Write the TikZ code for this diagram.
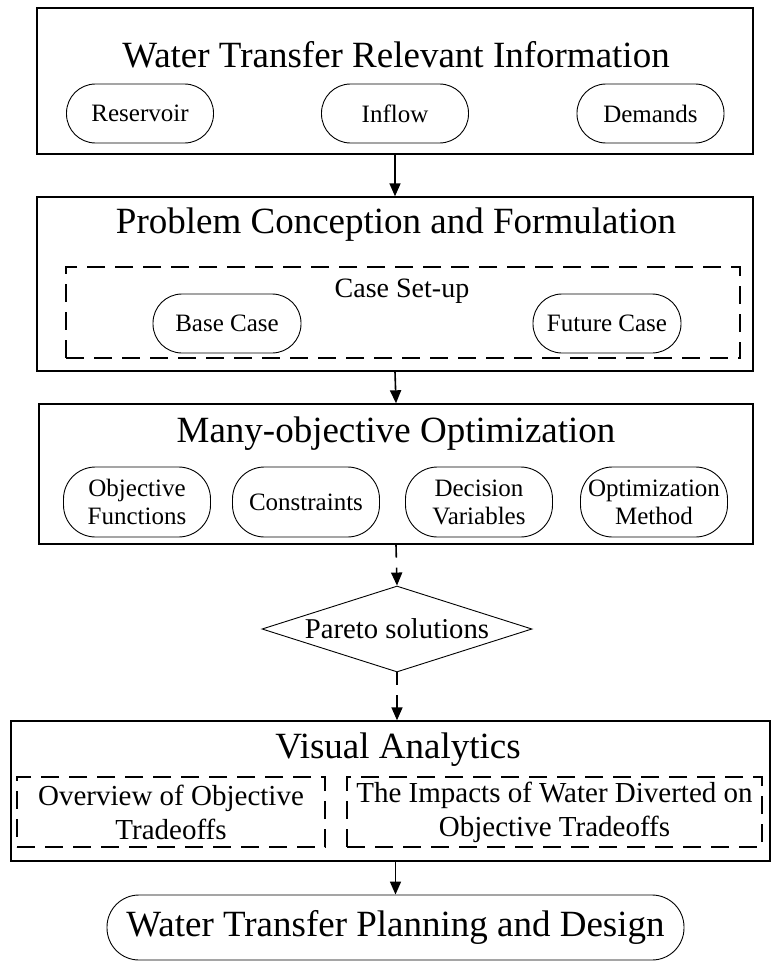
\documentclass[tikz,border=0pt]{standalone}
\usepackage{fontspec}
\setmainfont{Liberation Serif}
\usetikzlibrary{arrows.meta,shapes.geometric,positioning}

\begin{document}
\begin{tikzpicture}[x=1pt,y=-1pt,
    stage/.style={draw,line width=1.4pt,inner sep=0pt},
    pill/.style={draw,line width=0.9pt,rounded corners=29pt,minimum width=147pt,minimum height=59pt,inner sep=0pt,align=center,font=\fontsize{25}{28}\selectfont},
    dashbox/.style={draw,line width=1.1pt,dash pattern=on 18pt off 10pt,inner sep=0pt,align=center},
    headline/.style={anchor=base,font=\fontsize{37}{40}\selectfont},
    arr/.style={line width=1.6pt,-{Triangle[length=13pt,width=11pt]}},
    darr/.style={arr,dash pattern=on 13pt off 10pt}]
  \useasboundingbox (0,0) rectangle (771,963);
  % information
  \node[stage,minimum width=716pt,minimum height=146pt] (info) at (395,81) {};
  \node[headline] (infotitle) at (396,68) {Water Transfer Relevant Information};
  \node[pill] (reservoir) at (140,113.5) {Reservoir};
  \node[pill] (inflow) at (395,113.5) {Inflow};
  \node[pill] (demands) at (650.5,113.5) {Demands};
  % problem conception
  \node[stage,minimum width=716pt,minimum height=174pt] (concept) at (395,284) {};
  \node[headline] (concepttitle) at (396,233) {Problem Conception and Formulation};
  \node[dashbox,minimum width=674pt,minimum height=91pt] (casebox) at (403,312.5) {};
  \node[anchor=base,font=\fontsize{28}{30}\selectfont] (casetitle) at (402,297) {Case Set-up};
  \node[pill,minimum width=148pt] (basecase) at (227,323.5) {Base Case};
  \node[pill,minimum width=148pt] (futurecase) at (607,323.5) {Future Case};
  % optimization
  \node[stage,minimum width=714pt,minimum height=140pt] (optim) at (396,474) {};
  \node[headline] (optimtitle) at (396,442) {Many-objective Optimization};
  \foreach \name/\x/\txt in {objfun/137/{Objective\\Functions},constr/306/Constraints,decvar/479/{Decision\\Variables},method/654/{Optimization\\Method}}
    \node[pill,minimum height=70pt,rounded corners=32pt] (\name) at (\x,502) {\txt};
  % pareto
  \node[draw,diamond,line width=0.9pt,aspect=3,inner sep=0pt,minimum width=270pt,minimum height=86pt,font=\fontsize{28.7}{30}\selectfont] (pareto) at (397,629) {Pareto solutions};
  % visual analytics
  \node[stage,minimum width=759pt,minimum height=140pt] (visual) at (390.5,791) {};
  \node[headline] (visualtitle) at (398,758) {Visual Analytics};
  \node[dashbox,minimum width=308pt,minimum height=70pt,font=\fontsize{29}{34}\selectfont] (overview) at (171,812) {Overview of Objective\\Tradeoffs};
  \node[dashbox,minimum width=415pt,minimum height=70pt,font=\fontsize{29}{34}\selectfont] (impacts) at (554.5,812) {The Impacts of Water Diverted on\\Objective Tradeoffs};
  % planning
  \node[draw,line width=0.9pt,rounded corners=32pt,minimum width=577pt,minimum height=65pt,inner sep=0pt,font=\fontsize{37}{40}\selectfont] (plan) at (395.5,927.5) {Water Transfer Planning and Design};
  % arrows
  \draw[arr] (info.south) -- (concept.north);
  \draw[arr] (concept.south) -- (optim.north);
  \draw[darr] (optim.south) -- (pareto.north);
  \draw[darr] (pareto.south) -- (pareto.south |- visual.north);
  \draw[arr] (plan.north |- visual.south) -- (plan.north);
\end{tikzpicture}
\end{document}
